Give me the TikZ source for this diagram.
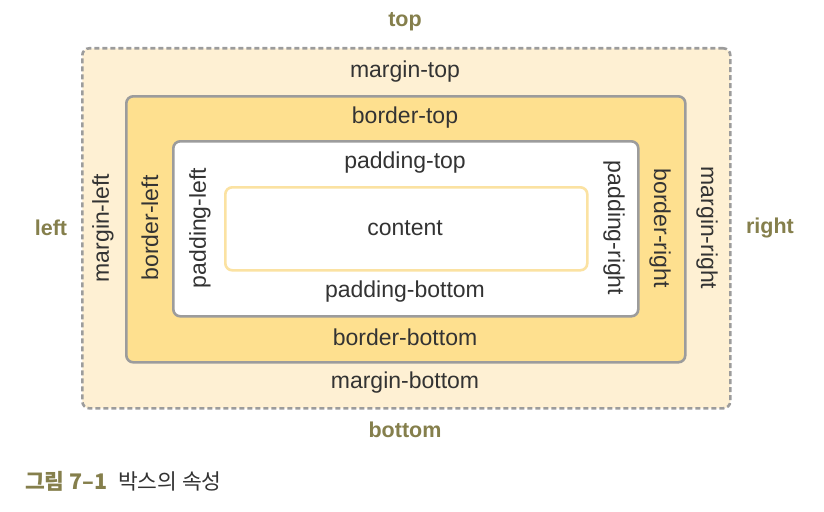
\documentclass[tikz,border=0pt]{standalone}
\usepackage{fontspec}
\setmainfont{Liberation Sans}
\newfontfamily\kr{Noto Sans CJK KR}
\definecolor{marginfill}{HTML}{FEF0D3}
\definecolor{borderfill}{HTML}{FEE08F}
\definecolor{edgegray}{HTML}{9C9C9C}
\definecolor{contentedge}{HTML}{FBE2A2}
\definecolor{olive}{HTML}{857F4C}
\definecolor{ink}{HTML}{333333}
\begin{document}
\begin{tikzpicture}[x=1pt,y=-1pt,
  box/.style={rectangle, rounded corners=7pt, inner sep=0pt, anchor=north west},
  lbl/.style={font=\fontsize{23}{26}\selectfont, text=ink, inner sep=0pt},
  side/.style={font=\fontsize{21.5}{24}\selectfont\bfseries, text=olive, inner sep=0pt}]
\useasboundingbox (0,0) rectangle (824,511);
\node[box, fill=marginfill, draw=edgegray, dashed, dash pattern=on 5pt off 3pt, line width=2.6pt,
  minimum width=648pt, minimum height=360pt] (margin) at (81,47) {};
\node[box, fill=borderfill, draw=edgegray, line width=2.6pt,
  minimum width=559pt, minimum height=266pt] (border) at (125,95) {};
\node[box, fill=white, draw=edgegray, line width=2.6pt,
  minimum width=465pt, minimum height=175pt] (padding) at (172,140) {};
\node[box, fill=white, draw=contentedge, line width=2.6pt,
  minimum width=362pt, minimum height=83pt] (content) at (224,186) {};

\node[lbl] (ctext) at (405,228) {content};
\node[lbl] (mt) at (405,72) {margin-top};
\node[lbl] (bt) at (405,118) {border-top};
\node[lbl] (pt) at (405,163) {padding-top};
\node[lbl] (pb) at (405,292) {padding-bottom};
\node[lbl] (bb) at (405,337) {border-bottom};
\node[lbl] (mb) at (405,383) {margin-bottom};
\node[lbl, rotate=90] (ml) at (103,228) {margin-left};
\node[lbl, rotate=90] (bl) at (150,228) {border-left};
\node[lbl, rotate=90] (pl) at (200,228) {padding-left};
\node[lbl, rotate=-90] (pr) at (614,228) {padding-right};
\node[lbl, rotate=-90] (br) at (660,228) {border-right};
\node[lbl, rotate=-90] (mr) at (707,228) {margin-right};

\node[side] (top) at (405,22) {top};
\node[side] (bottom) at (405,430) {bottom};
\node[side] (left) at (51,228) {left};
\node[side] (right) at (770,228) {right};

\node[anchor=west, inner sep=0pt, font=\kr\fontsize{21.5}{24}\selectfont\bfseries, text=olive] (fig) at (25,481) {그림 7–1};
\node[anchor=west, inner sep=0pt, font=\kr\fontsize{21.5}{24}\selectfont, text=ink] (cap) at ([xshift=10pt]fig.east) {박스의 속성};
\end{tikzpicture}
\end{document}
